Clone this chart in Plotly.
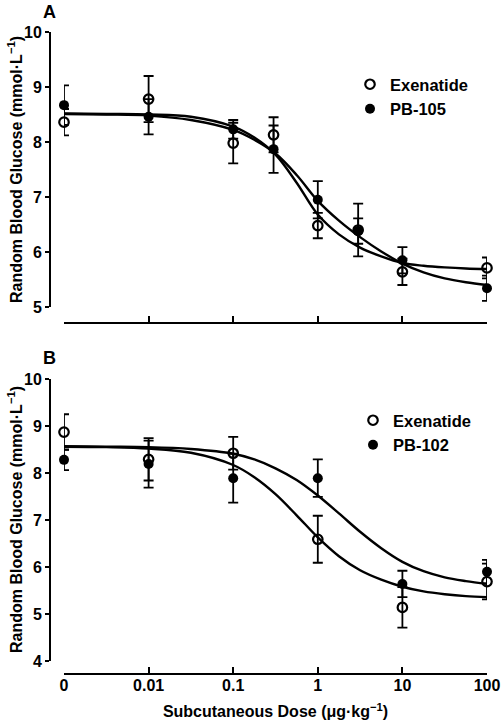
import plotly.graph_objects as go

# ---------------- data ----------------
ZERO_DOSE_POS = 0.001  # where the "0" dose group is drawn on the log axis
tick_doses = [0.001, 0.01, 0.1, 1, 10, 100]
tick_labels = ["0", "0.01", "0.1", "1", "10", "100"]

# Panel A
dose_a = [0, 0.01, 0.1, 0.3, 1, 3, 10, 100]
exen_a_mean = [8.36, 8.78, 7.98, 8.13, 6.48, 6.40, 5.64, 5.71]
exen_a_sem = [0.24, 0.42, 0.37, 0.32, 0.23, 0.48, 0.24, 0.19]
pb105_mean = [8.67, 8.46, 8.23, 7.87, 6.95, 6.38, 5.85, 5.34]
pb105_sem = [0.36, 0.32, 0.17, 0.43, 0.34, 0.23, 0.24, 0.23]

# Panel B
dose_b = [0, 0.01, 0.1, 1, 10, 100]
exen_b_mean = [8.87, 8.29, 8.42, 6.59, 5.14, 5.69]
exen_b_sem = [0.38, 0.45, 0.35, 0.50, 0.43, 0.38]
pb102_mean = [8.28, 8.19, 7.89, 7.89, 5.64, 5.90]
pb102_sem = [0.22, 0.50, 0.52, 0.40, 0.28, 0.25]

# fitted curves (log10 dose -> glucose)
curve_log_dose = [-3, -2.5, -2, -1.5, -1, -0.75, -0.5, -0.25, 0, 0.25, 0.5,
                  0.75, 1, 1.25, 1.5, 1.75, 2]
fit_exen_a = [8.52, 8.51, 8.50, 8.46, 8.28, 8.08, 7.77, 7.26, 6.68, 6.32, 6.08,
              5.92, 5.80, 5.75, 5.72, 5.70, 5.69]
fit_pb105 = [8.51, 8.50, 8.48, 8.40, 8.22, 8.04, 7.79, 7.40, 6.93, 6.57, 6.27,
             6.01, 5.79, 5.63, 5.52, 5.45, 5.40]
fit_exen_b = [8.56, 8.55, 8.52, 8.43, 8.17, 7.91, 7.55, 7.10, 6.63, 6.23, 5.93,
              5.73, 5.58, 5.48, 5.42, 5.38, 5.36]
fit_pb102 = [8.57, 8.56, 8.55, 8.51, 8.41, 8.29, 8.10, 7.85, 7.52, 7.14, 6.75,
             6.40, 6.11, 5.91, 5.78, 5.70, 5.64]

y_title = "Random Blood Glucose (mmol·L<sup>−1</sup>)"
x_title = "Subcutaneous Dose (μg·kg<sup>−1</sup>)"

# ---------------- figure ----------------
W, H = 501, 724
FONT = "Liberation Sans"


def fx(p):   # px from left -> paper x
    return p / W


def fy(p):   # px from top -> paper y
    return 1 - p / H


def pos(d):
    return [ZERO_DOSE_POS if v == 0 else v for v in d]


curve_x = [10 ** v for v in curve_log_dose]

fig = go.Figure()


def add_points(x, y, e, name, filled, xa, ya, legend):
    fig.add_trace(go.Scatter(
        x=pos(x), y=y, mode="markers", name=name,
        xaxis=xa, yaxis=ya, legend=legend, cliponaxis=False,
        marker=dict(symbol="circle", size=10 if filled else 9.5,
                    color="black" if filled else "rgba(0,0,0,0)",
                    line=dict(color="black", width=0 if filled else 2.2)),
        error_y=dict(type="data", array=e, visible=True, color="black",
                     thickness=1.8, width=5),
    ))


def add_curve(y, xa, ya):
    fig.add_trace(go.Scatter(
        x=curve_x, y=y, mode="lines", showlegend=False, hoverinfo="skip",
        xaxis=xa, yaxis=ya, line=dict(color="black", width=2.4, shape="spline"),
    ))


add_curve(fit_exen_a, "x", "y")
add_curve(fit_pb105, "x", "y")
add_points(dose_a, exen_a_mean, exen_a_sem, "Exenatide", False, "x", "y", "legend")
add_points(dose_a, pb105_mean, pb105_sem, "PB-105", True, "x", "y", "legend")

add_curve(fit_exen_b, "x2", "y2")
add_curve(fit_pb102, "x2", "y2")
add_points(dose_b, exen_b_mean, exen_b_sem, "Exenatide", False, "x2", "y2", "legend2")
add_points(dose_b, pb102_mean, pb102_sem, "PB-102", True, "x2", "y2", "legend2")

x_dom = [fx(64), fx(487)]
y_axis_pos = fx(50)
bold = dict(family=FONT, size=16, color="black", weight="bold")

common_x = dict(type="log", range=[-3, 2], domain=x_dom, anchor="free",
                showline=True, linewidth=2, linecolor="black",
                ticks="inside", ticklen=6, tickwidth=2, tickcolor="black",
                tickvals=tick_doses, ticktext=tick_labels, ticklabelstandoff=-3,
                ticklabeloverflow="allow",
                showgrid=False, zeroline=False, automargin=False, tickfont=bold)
common_y = dict(anchor="free", position=y_axis_pos, dtick=1,
                showline=True, linewidth=2, linecolor="black",
                ticks="outside", ticklen=4, tickwidth=2, tickcolor="black",
                showgrid=False, zeroline=False, automargin=False, tickfont=bold)

legend_common = dict(font=dict(family=FONT, size=16.5, color="black", weight="bold"),
                     bgcolor="rgba(0,0,0,0)", borderwidth=0, xanchor="left",
                     yanchor="top", tracegroupgap=0, itemclick=False)


def label(text, x, y, size=18, angle=0):
    return dict(text=text, x=fx(x), y=fy(y), xref="paper", yref="paper",
                showarrow=False, xanchor="center", yanchor="middle",
                textangle=angle,
                font=dict(family=FONT, size=size, color="black", weight="bold"))


fig.update_layout(
    width=W, height=H, paper_bgcolor="white", plot_bgcolor="white",
    margin=dict(l=0, r=0, t=0, b=0),
    font=dict(family=FONT, color="black"),
    xaxis=dict(common_x, position=fy(323), showticklabels=False),
    yaxis=dict(common_y, domain=[fy(307), fy(32)], range=[5, 10]),
    xaxis2=dict(common_x, position=fy(674), showticklabels=True,
                title=dict(text=x_title, font=bold, standoff=12)),
    yaxis2=dict(common_y, domain=[fy(661), fy(379)], range=[4, 10]),
    legend=dict(legend_common, x=fx(350), y=fy(67)),
    legend2=dict(legend_common, x=fx(353), y=fy(403)),
    annotations=[
        label("A", 49, 12),
        label("B", 49, 358),
        label(y_title, 15, 170, size=16, angle=-90),
        label(y_title, 15, 520, size=16, angle=-90),
    ],
    showlegend=True,
)

# the page's default 8px body margin would push the 501x724 figure out of the window
fig.write_html("out.html", config={"displayModeBar": False},
               post_script="document.body.style.margin='0px';")
